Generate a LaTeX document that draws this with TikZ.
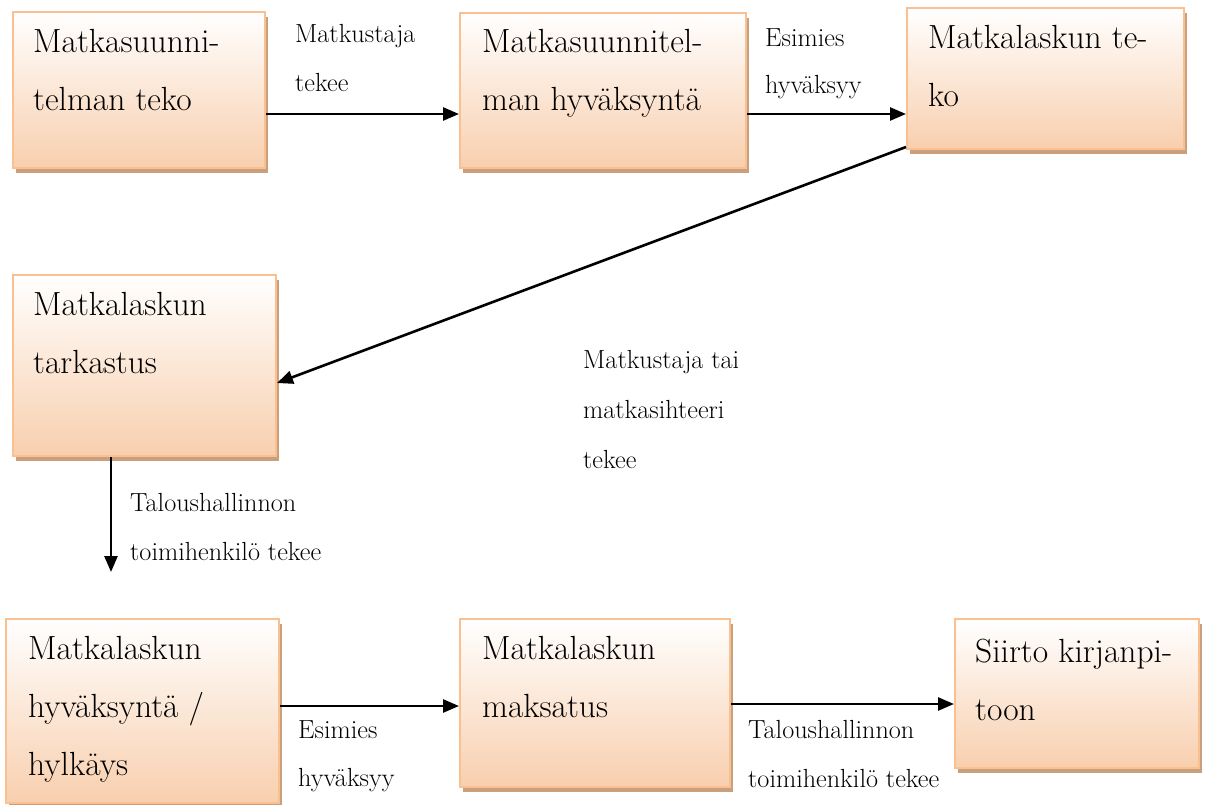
\documentclass[tikz,border=0pt]{standalone}
\usepackage{fontspec}
\usetikzlibrary{shadows,arrows.meta}
\definecolor{boxedge}{HTML}{FAC090}
\definecolor{boxfill}{HTML}{F8CFAE}
\definecolor{boxshade}{HTML}{C9A07E}
\tikzset{
  procbox/.style={draw=boxedge, line width=2pt, top color=white, bottom color=boxfill,
    shading angle=0, anchor=north west, inner sep=0pt,
    drop shadow={shadow xshift=3pt, shadow yshift=-4.5pt, fill=boxshade, opacity=1}},
  boxtext/.style={anchor=north west, inner sep=0pt, align=left,
    font=\fontsize{33.5}{58}\selectfont\addfontfeatures{FakeBold=0.6}},
  steplabel/.style={anchor=north west, inner sep=0pt, align=left,
    font=\fontsize{26.2}{49}\selectfont\addfontfeatures{FakeBold=0.6}},
  flow/.style={line width=2.6pt, -{Triangle[length=16pt,width=13pt]}}
}
\begin{document}
\begin{tikzpicture}[x=1pt,y=-1pt]
\useasboundingbox (0,0) rectangle (1205,804);

% process boxes
\node[procbox, minimum width=252pt, minimum height=156pt] (b1) at (12,11) {};
\node[procbox, minimum width=286pt, minimum height=155pt] (b2) at (459,12) {};
\node[procbox, minimum width=277pt, minimum height=141pt] (b3) at (906,7) {};
\node[procbox, minimum width=263pt, minimum height=181pt] (b4) at (12,274) {};
\node[procbox, minimum width=273pt, minimum height=184pt] (b5) at (5,618) {};
\node[procbox, minimum width=270pt, minimum height=168pt] (b6) at (459,618) {};
\node[procbox, minimum width=244pt, minimum height=149pt] (b7) at (954,618) {};

% box captions
\node[boxtext] (t1) at ([shift={(21pt,-18pt)}]b1.north west) {Matkasuunni-\\telman teko};
\node[boxtext] (t2) at ([shift={(23pt,-17pt)}]b2.north west) {Matkasuunnitel-\\man hyväksyntä};
\node[boxtext] (t3) at ([shift={(22pt,-18pt)}]b3.north west) {Matkalaskun te-\\ko};
\node[boxtext] (t4) at ([shift={(21pt,-18pt)}]b4.north west) {Matkalaskun\\tarkastus};
\node[boxtext] (t5) at ([shift={(23pt,-18.5pt)}]b5.north west) {Matkalaskun\\hyväksyntä /\\hylkäys};
\node[boxtext] (t6) at ([shift={(23pt,-18.5pt)}]b6.north west) {Matkalaskun\\maksatus};
\node[boxtext] (t7) at ([shift={(21pt,-20.5pt)}]b7.north west) {Siirto kirjanpi-\\toon};

% connectors
\coordinate (s12) at ([yshift=-24pt]b1.east);
\coordinate (s23) at ([yshift=-23.5pt]b2.east);
\coordinate (s34) at ([yshift=3pt]b3.south west);
\coordinate (s45) at ([xshift=-33.5pt]b4.south);
\path (s45) ++(0,115) coordinate (e45);
\coordinate (s56) at ([yshift=5pt]b5.east);
\coordinate (s67) at ([yshift=-1pt]b6.east);
\draw[flow] (s12) -- (s12 -| b2.west);
\draw[flow] (s23) -- (s23 -| b3.west);
\draw[flow] (s34) -- ([yshift=-17.5pt]b4.east);
\draw[flow] (s45) -- (e45);
\draw[flow] (s56) -- (s56 -| b6.west);
\draw[flow] (s67) -- (s67 -| b7.west);

% connector captions
\node[steplabel] (l12) at (295,23.8) {Matkustaja\\tekee};
\node[steplabel, font=\fontsize{26.2}{47}\selectfont\addfontfeatures{FakeBold=0.6}] (l23) at (765,28.8) {Esimies\\hyväksyy};
\node[steplabel, font=\fontsize{26.2}{50}\selectfont\addfontfeatures{FakeBold=0.6}] (l34) at (583,349.8) {Matkustaja tai\\matkasihteeri\\tekee};
\node[steplabel] (l45) at (130,492.8) {Taloushallinnon\\toimihenkilö tekee};
\node[steplabel, font=\fontsize{26.2}{48}\selectfont\addfontfeatures{FakeBold=0.6}] (l56) at (298,720.8) {Esimies\\hyväksyy};
\node[steplabel] (l67) at (748,719.8) {Taloushallinnon\\toimihenkilö tekee};
\end{tikzpicture}
\end{document}
